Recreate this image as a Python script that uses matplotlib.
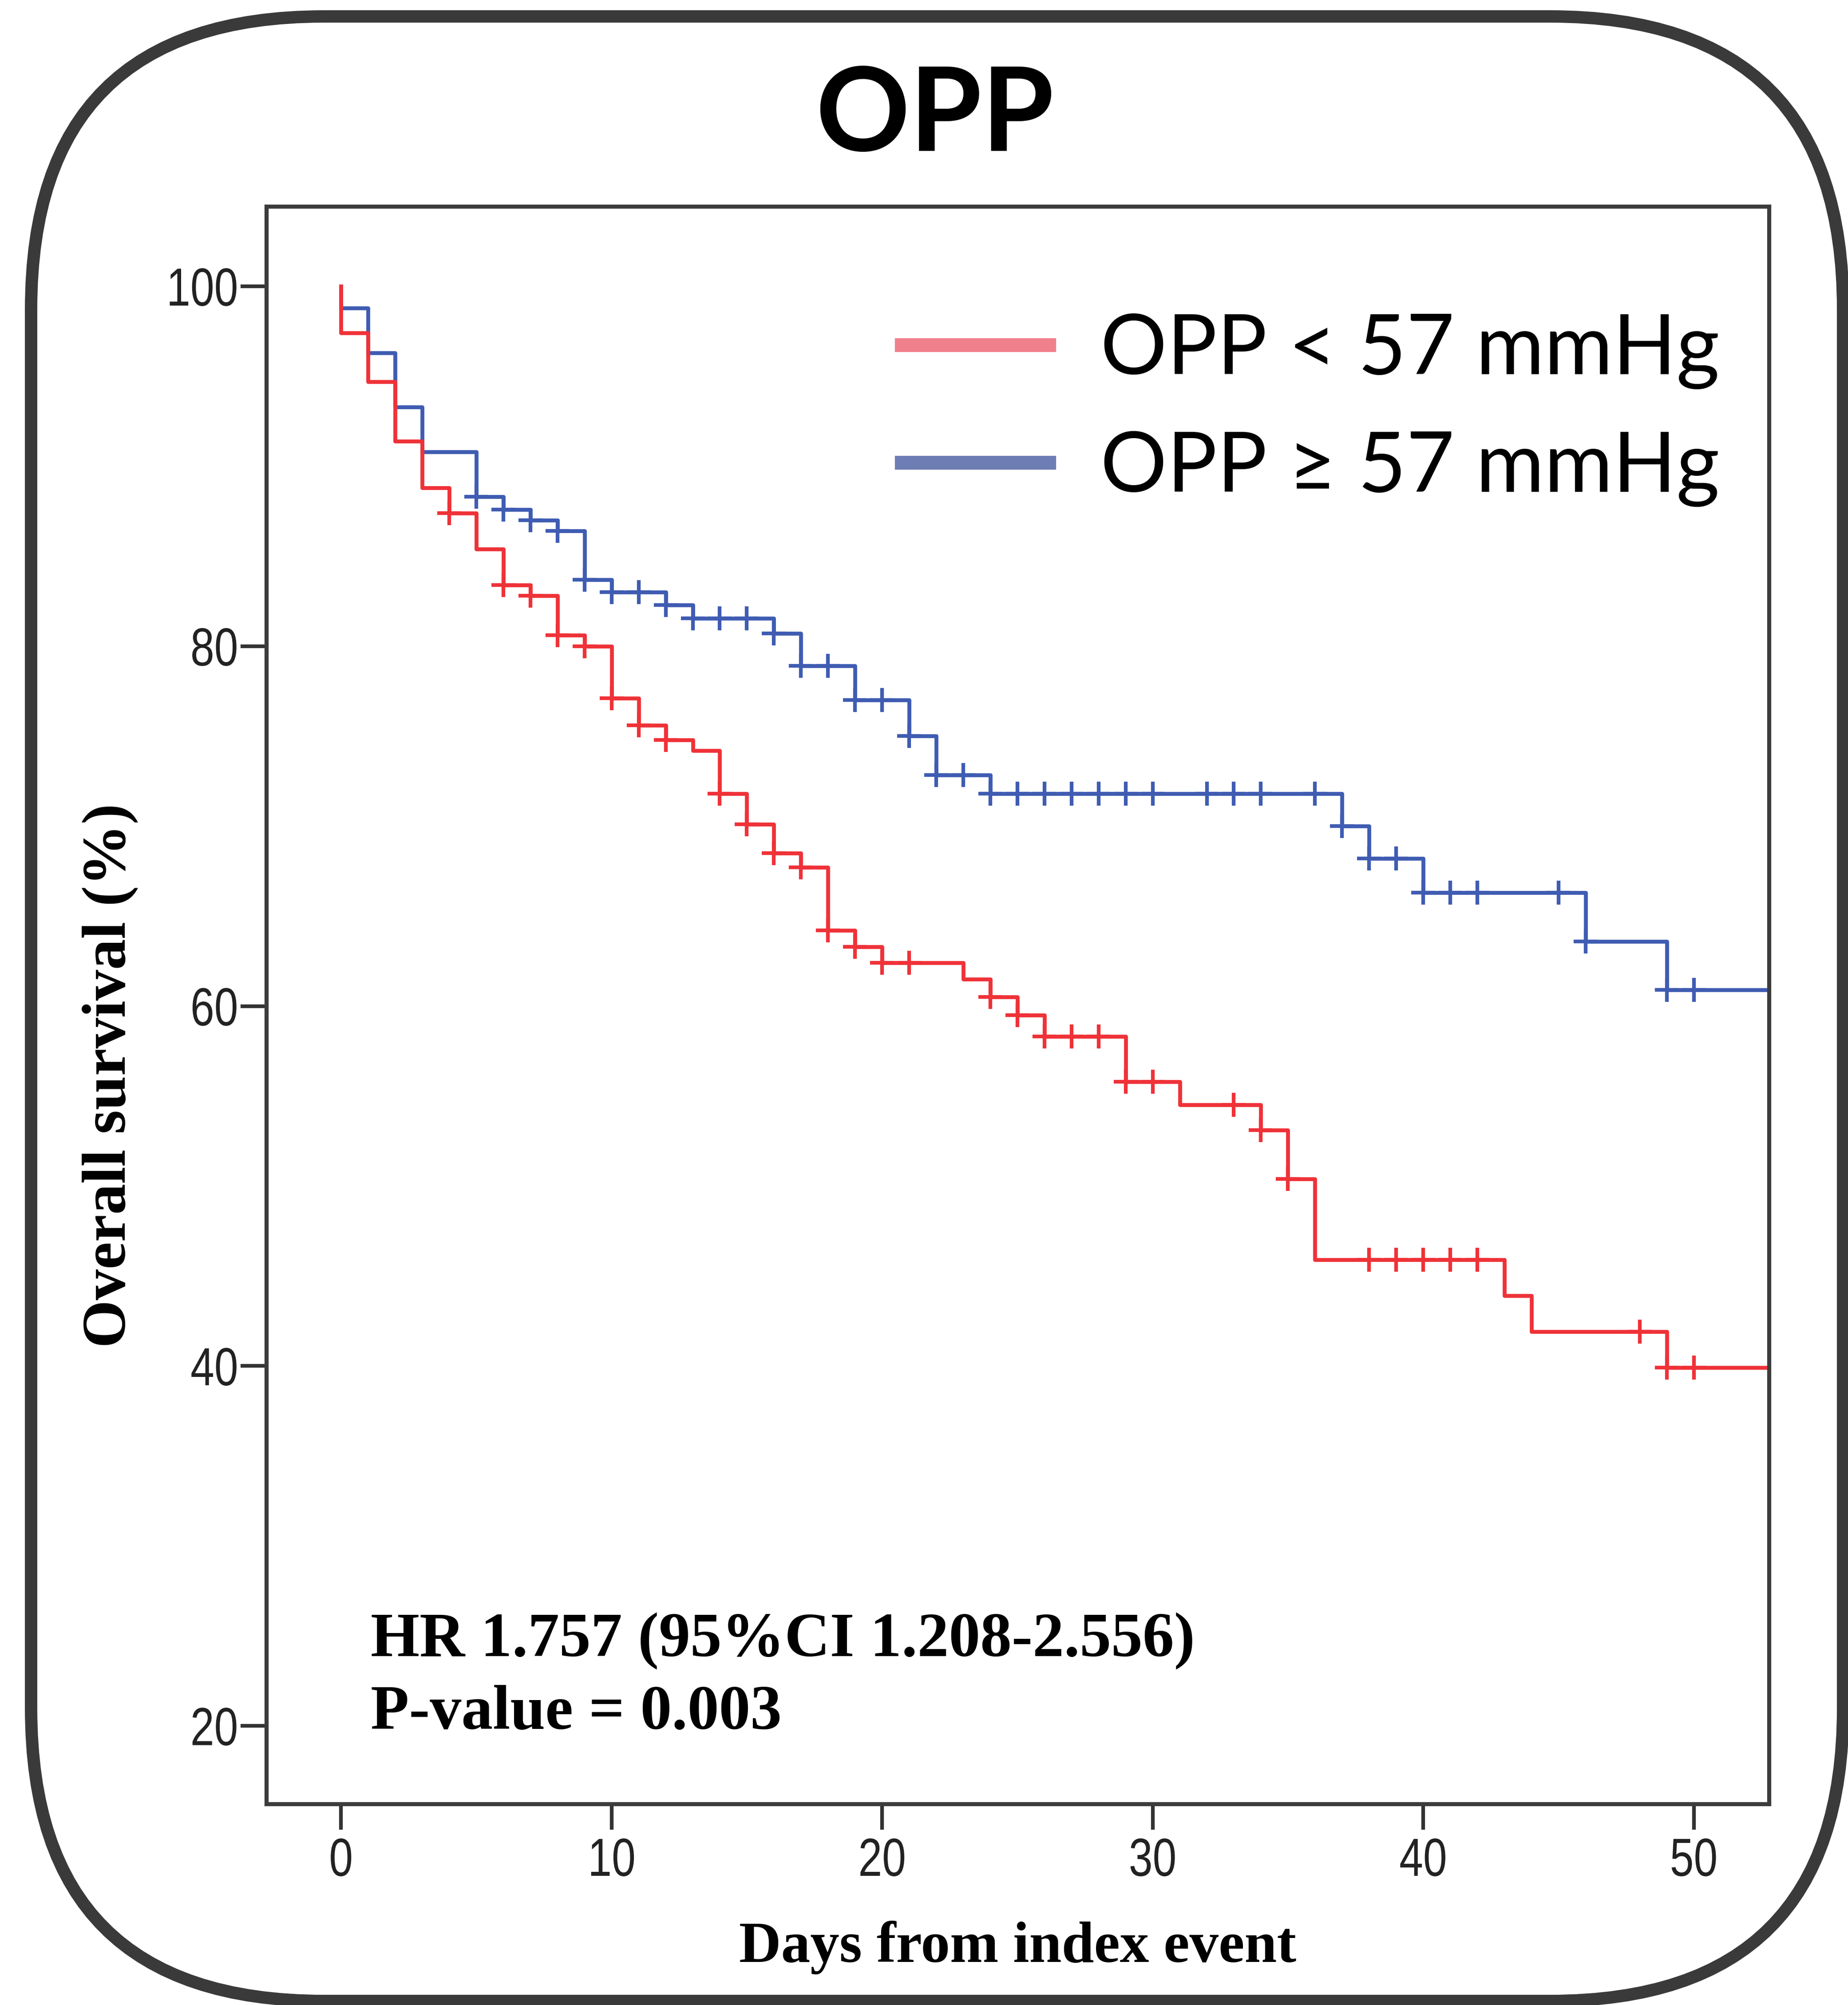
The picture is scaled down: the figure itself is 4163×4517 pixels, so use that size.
import numpy as np
import matplotlib
matplotlib.use("Agg")
import matplotlib.pyplot as plt
from matplotlib.lines import Line2D
from matplotlib.patches import FancyBboxPatch
from matplotlib.patheffects import AbstractPathEffect
from matplotlib.transforms import Affine2D

# Kaplan-Meier curves: day of each drop and overall survival (%) right after it
low_days = [0, 1, 2, 3, 4, 5, 6, 7, 8, 9, 10, 11, 12, 13, 14, 15, 16, 17, 18, 19,
            20, 23, 24, 25, 26, 29, 31, 34, 35, 36, 43, 44, 49]
low_surv = [97.4, 94.7, 91.4, 88.8, 87.4, 85.4, 83.4, 82.8, 80.6, 80.0, 77.1, 75.6,
            74.8, 74.2, 71.8, 70.1, 68.5, 67.7, 64.2, 63.3, 62.4, 61.5, 60.5, 59.5,
            58.3, 55.8, 54.5, 53.1, 50.4, 45.9, 43.9, 41.9, 39.9]
low_censored = [4, 6, 7, 8, 9, 10, 11, 12, 14, 15, 16, 17, 18, 19, 20, 21, 24, 25,
                26, 27, 28, 29, 30, 33, 34, 35, 38, 39, 40, 41, 42, 48, 49, 50]

high_days = [0, 1, 2, 3, 5, 6, 7, 8, 9, 10, 12, 13, 16, 17, 19, 21, 22, 24, 37, 38,
             40, 46, 49]
high_surv = [98.8, 96.3, 93.3, 90.8, 88.3, 87.6, 87.0, 86.4, 83.7, 83.0, 82.3, 81.55,
             80.7, 78.9, 77.0, 75.0, 72.85, 71.8, 70.0, 68.2, 66.3, 63.6, 60.9]
high_censored = [5, 6, 7, 8, 9, 10, 11, 12, 13, 14, 15, 16, 17, 18, 19, 20, 21, 22,
                 23, 24, 25, 26, 27, 28, 29, 30, 32, 33, 34, 36, 37, 38, 39, 40, 41,
                 42, 45, 46, 49, 50]

follow_up_end = 53
group_labels = ["OPP < 57 mmHg", "OPP \u2265 57 mmHg"]
x_ticks = [0, 10, 20, 30, 40, 50]
y_ticks = [20, 40, 60, 80, 100]
hr_text = "HR 1.757 (95%CI 1.208-2.556)"
p_text = "P-value = 0.003"

RED = "#ef3238"
BLUE = "#3f5cb2"

serif = ["Liberation Serif", "DejaVu Serif"]
sans = ["Liberation Sans", "DejaVu Sans"]
geo = ["Lato", "DejaVu Sans"]


class Squeeze(AbstractPathEffect):
    """Draw text narrower, keeping its centre or right edge in place."""

    def __init__(self, sx, anchor="center"):
        super().__init__()
        self.sx = sx
        self.anchor = anchor

    def draw_path(self, renderer, gc, tpath, affine, rgbFace=None):
        ext = tpath.get_extents()
        x0 = ext.x1 if self.anchor == "right" else (ext.x0 + ext.x1) / 2
        squeeze = Affine2D().translate(-x0, 0).scale(self.sx, 1).translate(x0, 0)
        renderer.draw_path(gc, tpath, squeeze + affine, rgbFace)


def km_steps(days, surv, end):
    x = [0] + list(days) + [end]
    y = [100] + list(surv) + [surv[-1]]
    return x, y


def censor_levels(days, surv, censored):
    idx = np.searchsorted(days, censored, side="right") - 1
    return np.asarray(surv)[idx]


W, H, DPI = 4163, 4517, 300
fig = plt.figure(figsize=(W / DPI, H / DPI), dpi=DPI, facecolor="white")

# rounded frame around the panel
frame = FancyBboxPatch((70 / DPI, 9 / DPI), (4152 - 70) / DPI, (4480 - 9) / DPI,
                       boxstyle="round,pad=0,rounding_size=2.2",
                       transform=fig.dpi_scale_trans, fill=False,
                       lw=6.7, ec="#3a3a3a")
fig.add_artist(frame)

ax = fig.add_axes([600 / W, 1 - 4064 / H, 3385 / W, 3599 / H])

for days, surv, cens, col in [(high_days, high_surv, high_censored, BLUE),
                              (low_days, low_surv, low_censored, RED)]:
    x, y = km_steps(days, surv, follow_up_end)
    ax.step(x, y, where="post", color=col, lw=2.1)
    ax.plot(cens, censor_levels(days, surv, cens), ls="none", marker="+",
            ms=13, mew=2.0, color=col)

ax.set_xlim(-2.76, 52.78)
ax.set_ylim(15.66, 104.44)
ax.set_xticks(x_ticks)
ax.set_yticks(y_ticks)
ax.tick_params(length=14, width=2, color="#333333", labelsize=29,
               labelcolor="#222222")
ax.tick_params(axis="y", pad=1)
ax.tick_params(axis="x", pad=4)
for lab in ax.get_xticklabels():
    lab.set_family(sans)
    lab.set_path_effects([Squeeze(0.8, "center")])
for lab in ax.get_yticklabels():
    lab.set_family(sans)
    lab.set_path_effects([Squeeze(0.8, "right")])
for sp in ax.spines.values():
    sp.set_linewidth(2.2)
    sp.set_color("#3c3c3c")

ax.set_xlabel("Days from index event", family=serif, weight="bold", fontsize=31.5)
ax.xaxis.set_label_coords(0.5, -0.073)
ax.set_ylabel("Overall survival (%)", family=serif, weight="bold", fontsize=33.3)
ax.yaxis.set_label_coords(-0.085, 0.456)

ax.text(0.0694, 0.0925, hr_text, transform=ax.transAxes, family=serif,
        weight="bold", fontsize=34, va="baseline")
ax.text(0.0694, 0.047, p_text, transform=ax.transAxes, family=serif,
        weight="bold", fontsize=34, va="baseline")

handles = [Line2D([], [], color="#f0808c", lw=7.5),
           Line2D([], [], color="#6e7db4", lw=7.5)]
ax.legend(handles, group_labels, loc="upper left", bbox_to_anchor=(0.4227, 0.9336),
          frameon=False, prop={"family": geo, "size": 45}, handlelength=1.77,
          handletextpad=0.62, labelspacing=0.49, borderpad=0, borderaxespad=0)

fig.text(2106 / W, 1 - 340 / H, "OPP", family=geo, weight="bold", fontsize=63,
         ha="center", va="baseline")

fig.savefig("out.png", dpi=DPI, facecolor="white")
